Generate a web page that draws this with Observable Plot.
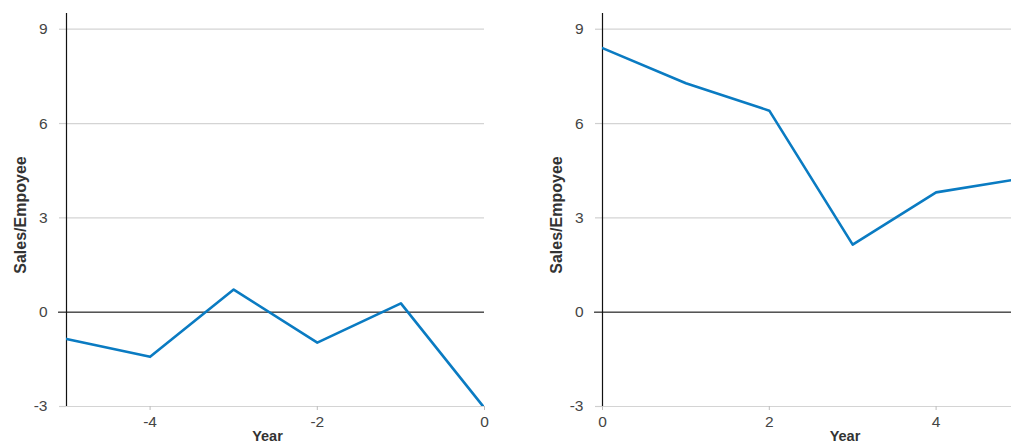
<!DOCTYPE html>
<html>
<head>
<meta charset="utf-8">
<script src="https://cdn.jsdelivr.net/npm/d3@7"></script>
<script src="https://cdn.jsdelivr.net/npm/@observablehq/plot@0.6"></script>
<style>
  html, body { margin: 0; padding: 0; background: #fff; overflow: hidden; width: 1011px; height: 447px; }
  #wrap { position: relative; width: 1011px; height: 447px; overflow: hidden; }
  #left, #right { position: absolute; top: 0; }
  #left { left: 0; width: 520px; }
  #right { left: 520px; width: 519px; }
  svg { max-width: none !important; }
</style>
</head>
<body>
<div id="wrap"><div id="left"></div><div id="right"></div></div>
<script>
const yearsBefore = [-5, -4, -3, -2, -1, 0];
const salesBefore = [-0.85, -1.42, 0.72, -0.97, 0.28, -3.05];
const yearsAfter = [0, 1, 2, 3, 4, 5];
const salesAfter = [8.4, 7.28, 6.41, 2.15, 3.81, 4.24];
const yTicks = [-3, 0, 3, 6, 9];
const xTicksLeft = [-4, -2, 0];
const xTicksRight = [0, 2, 4];
const yLabel = "Sales/Empoyee";
const xLabel = "Year";

function panel(years, sales, xDomain, xTicks, width, marginLeft, marginRight, labelDx) {
  const data = years.map((x, i) => ({x, y: sales[i]}));
  const fmt = d => String(d);
  return Plot.plot({
    width, height: 447,
    marginLeft, marginRight, marginTop: 13, marginBottom: 41,
    style: {fontFamily: "Liberation Sans, Arial, sans-serif", fontSize: "15.5px", color: "#444", background: "#fff", overflow: "visible"},
    x: {domain: xDomain},
    y: {domain: [-3, 9.5]},
    marks: [
      Plot.gridY(yTicks, {stroke: "#d4d4d4", strokeOpacity: 1, strokeWidth: 1.2}),
      Plot.axisY(yTicks, {tickSize: 7, tickPadding: 12, stroke: "#cfcfcf", strokeWidth: 1.2, fill: "#444",
        tickFormat: fmt, fontSize: 15.5,
        label: yLabel, labelAnchor: "center", labelArrow: "none", labelOffset: 52}),
      Plot.axisX(xTicks, {tickSize: 4, tickPadding: 5, stroke: "#bdbdbd", fill: "#444", label: null, tickFormat: fmt, fontSize: 15.5}),
      Plot.ruleY([0], {stroke: "#555", strokeWidth: 1.6, insetLeft: -8}),
      Plot.ruleX([xDomain[0]], {y1: -3, y2: 9.5, stroke: "#111", strokeWidth: 1.2}),
      Plot.line(data, {x: "x", y: "y", stroke: "#0a7bc2", strokeWidth: 2.6, clip: true}),
      Plot.text([xLabel], {frameAnchor: "bottom", dy: 34, dx: labelDx, fontWeight: "bold", fontSize: 14.5, fill: "#333"})
    ]
  });
}

const left = panel(yearsBefore, salesBefore, [-5, 0], xTicksLeft, 520, 66, 36, -8);
const right = panel(yearsAfter, salesAfter, [0, 5], xTicksRight, 519, 82, 20, 34);
document.getElementById("left").appendChild(left);
document.getElementById("right").appendChild(right);
for (const svg of [left, right]) {
  d3.select(svg).selectAll("g[aria-label='y-axis tick label'] text, g[aria-label='x-axis tick label'] text")
    .style("font-size", "15.5px");
  d3.select(svg).selectAll("g[aria-label='y-axis label'] text")
    .style("font-size", "16px").style("font-weight", "bold").attr("fill", "#333")
    .attr("transform", function() { return "translate(0,5) " + (this.getAttribute("transform") || ""); });
}
</script>
</body>
</html>
